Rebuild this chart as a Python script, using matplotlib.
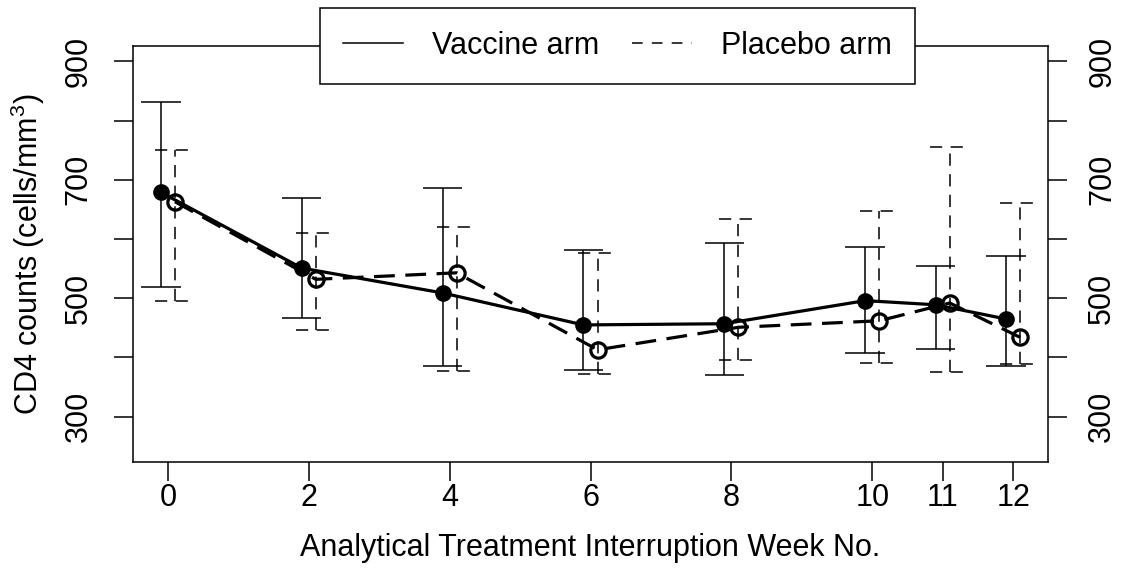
import numpy as np
import matplotlib.pyplot as plt
from matplotlib.lines import Line2D

plt.rcParams['font.family'] = ['Liberation Sans', 'DejaVu Sans']
plt.rcParams['mathtext.fontset'] = 'custom'
plt.rcParams['mathtext.rm'] = 'Liberation Sans'
plt.rcParams['mathtext.it'] = 'Liberation Sans:italic'

# ── data (CD4 counts, cells/mm3) ─────────────────────────────────────────
weeks = np.array([0, 2, 4, 6, 8, 10, 11, 12])
week_labels = ["0", "2", "4", "6", "8", "10", "11", "12"]

vaccine_mean  = [679, 551, 509, 455, 457, 496, 489, 465]
vaccine_upper = [832, 669, 687, 582, 594, 586, 555, 571]
vaccine_lower = [519, 467, 385, 379, 370, 408, 415, 386]

placebo_mean  = [663, 532, 543, 413, 451, 462, 492, 434]
placebo_upper = [751, 610, 621, 576, 634, 647, 756, 661]
placebo_lower = [496, 447, 377, 372, 396, 390, 376, 389]

y_ticks = [300, 400, 500, 600, 700, 800, 900]
y_labels = ["300", "", "500", "", "700", "", "900"]

FS = 22
SHIFT = 0.1      # horizontal offset of the two arms
CAP = 0.28       # half width of error bar caps (data units)
BAR_DASH = (0, (8, 5.5))
LINE_DASH = (0, (6.5, 3.3))

fig = plt.figure(figsize=(11.32, 5.78), dpi=100)
ax = fig.add_axes([0.1172, 0.2012, 0.8089, 0.7192])


def draw_arm(x, mean, lo, hi, ls, line_ls, filled):
    ax.vlines(x, lo, hi, colors="black", lw=1.1, linestyles=ls, zorder=2)
    ax.hlines(hi, x - CAP, x + CAP, colors="black", lw=1.1, linestyles=ls, zorder=2)
    ax.hlines(lo, x - CAP, x + CAP, colors="black", lw=1.1, linestyles=ls, zorder=2)
    ax.plot(x, mean, color="black", lw=2.3, linestyle=line_ls, zorder=3,
            marker="o", markersize=12 if filled else 11,
            markerfacecolor="black" if filled else "none",
            markeredgecolor="black", markeredgewidth=0 if filled else 2.3)


draw_arm(weeks - SHIFT, vaccine_mean, vaccine_lower, vaccine_upper,
         "solid", "-", True)
draw_arm(weeks + SHIFT, placebo_mean, placebo_lower, placebo_upper,
         BAR_DASH, LINE_DASH, False)

ax.set_xlim(-0.5, 12.5)
ax.set_ylim(224, 926)
ax.set_xticks(weeks)
ax.set_xticklabels(week_labels)
ax.set_yticks(y_ticks)
ax.set_yticklabels(y_labels)

for s in ax.spines.values():
    s.set_linewidth(1.1)
ax.tick_params(axis="both", direction="out", length=14, width=1.1,
               labelsize=FS)
ax.tick_params(axis="x", pad=1)
ax.tick_params(axis="y", right=True, labelright=True, pad=14)
for t in ax.yaxis.get_major_ticks():
    for lab in (t.label1, t.label2):
        lab.set_rotation(90)
        lab.set_va("center")

ax.set_xlabel("Analytical Treatment Interruption Week No.", fontsize=FS)
ax.set_ylabel("CD4 counts (cells/mm$^3$)", fontsize=FS)
ax.xaxis.set_label_coords(0.5, -0.172)
ax.yaxis.set_label_coords(-0.0936, 0.5)

handles = [Line2D([], [], color="black", lw=1.1),
           Line2D([], [], color="black", lw=1.1, linestyle=(0, (7, 6)))]
leg = fig.legend(handles, ["Vaccine arm", "Placebo arm"], loc="upper center",
                 bbox_to_anchor=(617.5 / 1132, 1 - 8 / 578), ncol=2,
                 fontsize=FS, frameon=True, fancybox=False, framealpha=1,
                 edgecolor="black", handlelength=1.95, handletextpad=0.95,
                 columnspacing=1.1, borderpad=0.75, borderaxespad=0)
leg.get_frame().set_linewidth(1.1)
leg.set_zorder(10)

plt.savefig("out.png", dpi=100)
